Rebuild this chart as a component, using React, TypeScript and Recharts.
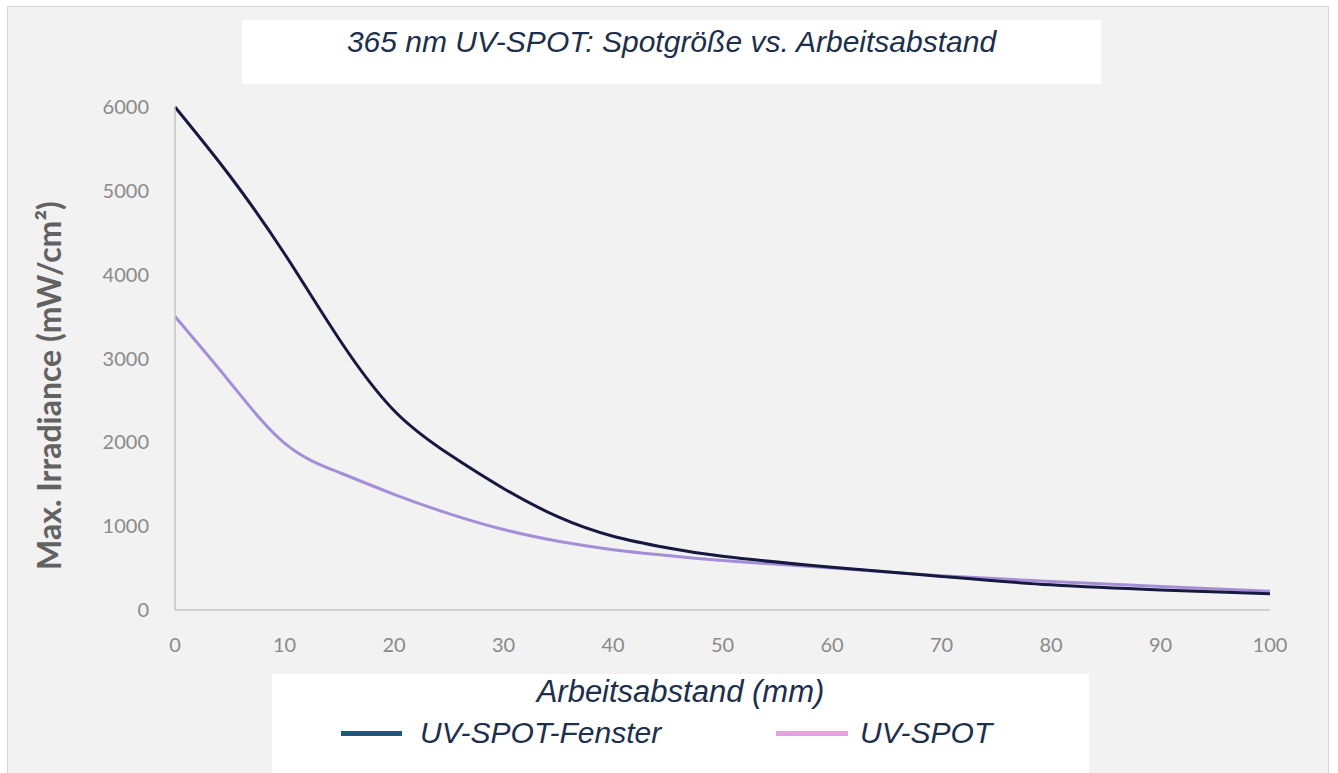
import React from "react";
import {
  LineChart,
  Line,
  XAxis,
  YAxis,
  Legend,
} from "recharts";

// Arbeitsabstand in mm
const distances = [0, 5, 10, 15, 20, 25, 30, 35, 40, 45, 50, 60, 70, 80, 90, 100];
// Max. Irradiance (mW/cm²)
const fensterValues = [6000, 5180, 4250, 3230, 2380, 1860, 1450, 1110, 880, 740, 640, 510, 400, 300, 240, 195];
const spotValues = [3500, 2720, 1990, 1640, 1380, 1150, 960, 820, 720, 650, 590, 500, 410, 340, 280, 225];

const xTicks = [0, 10, 20, 30, 40, 50, 60, 70, 80, 90, 100];
const yTicks = [0, 1000, 2000, 3000, 4000, 5000, 6000];

const seriesNames = ["UV-SPOT-Fenster", "UV-SPOT"];
const legendColors = ["#1c5a7d", "#e6a2e0"];

const data = distances.map((d, i) => ({
  x: d,
  fenster: fensterValues[i],
  spot: spotValues[i],
}));

const textColor = "#1d2f4c";
const tickStyle = { fill: "#8a8a8a", fontSize: 20, fontFamily: "Lato, sans-serif" };

function YTitle(props: any) {
  const vb = props.viewBox;
  const cx = vb.x - 27;
  const cy = vb.y + vb.height / 2 + 27;
  return (
    <text
      x={cx}
      y={cy}
      transform={`rotate(-90 ${cx} ${cy})`}
      textAnchor="middle"
      dominantBaseline="central"
      fill="#626262"
      fontSize={32}
      fontWeight={700}
      fontFamily="Lato, sans-serif"
    >
      Max. Irradiance (mW/cm²)
    </text>
  );
}

function XTitle(props: any) {
  const vb = props.viewBox;
  return (
    <text
      x={vb.x + vb.width / 2 - 42}
      y={vb.y + 92}
      textAnchor="middle"
      fill={textColor}
      fontSize={31}
      fontStyle="italic"
      fontFamily="'Liberation Sans', Arial, sans-serif"
    >
      Arbeitsabstand (mm)
    </text>
  );
}

function LegendBox() {
  const items = [
    { name: seriesNames[0], color: legendColors[0], lineLeft: 69, lineW: 61, textLeft: 148 },
    { name: seriesNames[1], color: legendColors[1], lineLeft: 504, lineW: 72, textLeft: 588 },
  ];
  return (
    <div style={{ position: "relative", width: 817, height: 99 }}>
      {items.map((it) => (
        <React.Fragment key={it.name}>
          <div
            style={{
              position: "absolute",
              left: it.lineLeft,
              top: 57,
              width: it.lineW,
              height: 5,
              background: it.color,
            }}
          />
          <div
            style={{
              position: "absolute",
              left: it.textLeft,
              top: 40,
              fontSize: 30,
              lineHeight: "38px",
              fontStyle: "italic",
              color: textColor,
              fontFamily: "'Liberation Sans', Arial, sans-serif",
              whiteSpace: "nowrap",
            }}
          >
            {it.name}
          </div>
        </React.Fragment>
      ))}
    </div>
  );
}

export default function App() {
  return (
    <div
      style={{
        position: "absolute",
        left: 0,
        top: 0,
        width: 1338,
        height: 773,
        background: "#ffffff",
        overflow: "hidden",
      }}
    >
      <div
        style={{
          position: "absolute",
          left: 7,
          top: 6,
          width: 1320,
          height: 780,
          background: "#f2f2f2",
          border: "1.5px solid #d8d8d8",
        }}
      />
      <div
        style={{
          position: "absolute",
          left: 242,
          top: 20,
          width: 859,
          height: 64,
          background: "#ffffff",
          textAlign: "center",
          fontSize: 30,
          lineHeight: "44px",
          fontStyle: "italic",
          color: textColor,
          fontFamily: "'Liberation Sans', Arial, sans-serif",
        }}
      >
        365 nm UV-SPOT: Spotgröße vs. Arbeitsabstand
      </div>
      <div
        style={{
          position: "absolute",
          left: 272,
          top: 674,
          width: 817,
          height: 110,
          background: "#ffffff",
        }}
      />
      <div style={{ position: "absolute", left: 0, top: 0 }}>
        <LineChart
          width={1338}
          height={773}
          data={data}
          margin={{ top: 107, right: 68, bottom: 103, left: 75 }}
        >
          <XAxis
            dataKey="x"
            type="number"
            domain={[0, 100]}
            ticks={xTicks}
            tickLine={false}
            axisLine={{ stroke: "#c4c4c4", strokeWidth: 1.5 }}
            tick={tickStyle}
            tickMargin={22}
            height={60}
            label={<XTitle />}
          />
          <YAxis
            type="number"
            domain={[0, 6000]}
            ticks={yTicks}
            tickLine={false}
            axisLine={{ stroke: "#c4c4c4", strokeWidth: 1.5 }}
            tick={tickStyle}
            tickMargin={20}
            width={100}
            label={<YTitle />}
          />
          <Legend
            layout="horizontal"
            verticalAlign="middle"
            align="center"
            wrapperStyle={{ position: "absolute", left: 272, top: 674, width: 817, height: 99 }}
            content={() => <LegendBox />}
          />
          <Line
            type="natural"
            dataKey="spot"
            name={seriesNames[1]}
            stroke="#a58ed8"
            strokeWidth={3}
            dot={false}
            isAnimationActive={false}
          />
          <Line
            type="natural"
            dataKey="fenster"
            name={seriesNames[0]}
            stroke="#16183f"
            strokeWidth={3}
            dot={false}
            isAnimationActive={false}
          />
        </LineChart>
      </div>
    </div>
  );
}
